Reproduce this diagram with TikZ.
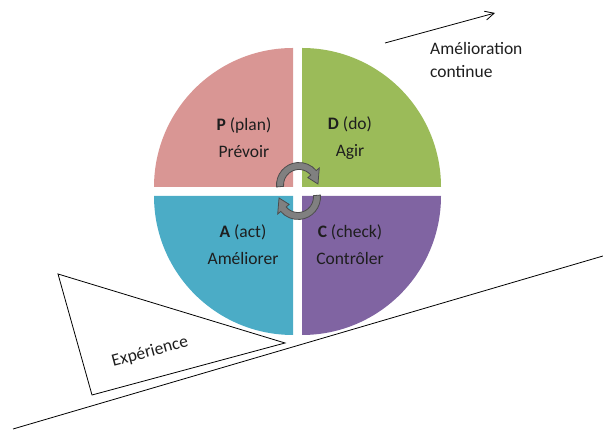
\documentclass[tikz,border=0pt]{standalone}
\usepackage{fontspec}
\setmainfont{Carlito}
\usepackage{tikz}
\usetikzlibrary{positioning, arrows.meta}
\definecolor{planpink}{RGB}{217,150,148}
\definecolor{dogreen}{RGB}{155,187,89}
\definecolor{actblue}{RGB}{75,172,198}
\definecolor{checkpurple}{RGB}{128,100,162}
\definecolor{textgray}{RGB}{30,30,30}
\tikzset{
>={Straight Barb[length=9pt,width=9pt]}, % open arrow heads
x=1pt, y=1pt, % one unit is one pixel of the sketch
quarter/.style={draw=none}, % the four coloured parts of the wheel
phase/.style={font=\fontsize{17.5}{27}\selectfont, text=textgray, align=center}, % labels in the wheel
note/.style={font=\fontsize{17.5}{23}\selectfont, text=textgray, inner sep=0pt}, % free texts
cycle arrow/.pic={ % curved grey arrow in the middle
  \fill[gray, draw=black!70, line width=0.8pt]
    (185:22.5) arc (185:40:22.5) -- (40:26.5) -- (3:19) -- (40:11.5)
    -- (40:15.5) arc (40:185:15.5) -- cycle;
  }
}
\begin{document}
\begin{tikzpicture}
  \useasboundingbox (0,0) rectangle (603,430);
  % the wheel
  \fill[quarter, planpink] (293,243) -- ++(-139,0) arc (180:90:139) -- cycle;
  \fill[quarter, dogreen] (302,243) -- ++(0,139) arc (90:0:139) -- cycle;
  \fill[quarter, actblue] (293,234) -- ++(-139,0) arc (180:270:139) -- cycle;
  \fill[quarter, checkpurple] (302,234) -- ++(0,-139) arc (270:360:139) -- cycle;
  \node[phase] (plan) at (244,292) {\textbf{P} (plan)\\Prévoir};
  \node[phase] (do) at (350,292) {\textbf{D} (do)\\Agir};
  \node[phase] (act) at (243,185) {\textbf{A} (act)\\Améliorer};
  \node[phase] (check) at (350,185) {\textbf{C} (check)\\Contrôler};
  \pic (turntop) at (299,245) {cycle arrow};
  \pic[rotate=180] (turnbottom) at (298,233) {cycle arrow};
  % slope and wedge
  \draw[line width=0.8pt] (13,1) -- (603,174);
  \draw[line width=0.8pt] (58,156) -- (285,87) -- (92,35) -- cycle;
  \node[note, rotate=15] (experience) at (150,78) {Expérience};
  % continuous improvement
  \coordinate (start) at (385,387);
  \coordinate (goal) at (495,417);
  \draw[->, line width=0.8pt] (start) -- (goal);
  \node[note, anchor=north west, align=left] (improve) at (430,388) {Amélioration\\continue};
\end{tikzpicture}
\end{document}
